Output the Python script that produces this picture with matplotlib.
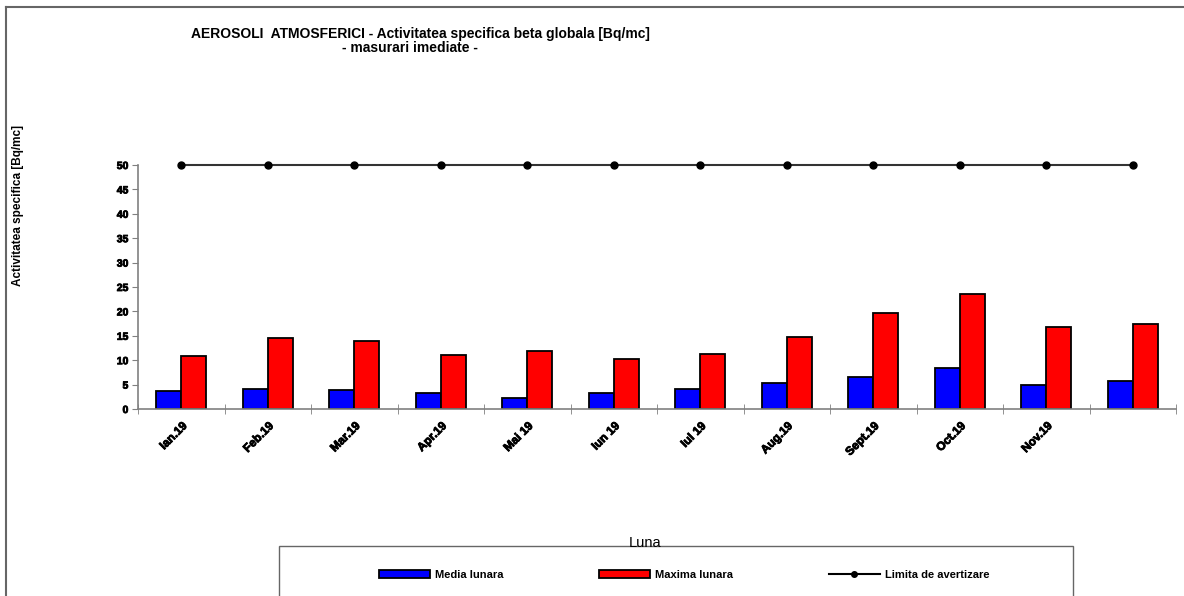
import matplotlib
matplotlib.use("Agg")
import matplotlib.pyplot as plt
import matplotlib.patheffects as pe
from matplotlib.patches import Rectangle, Patch
from matplotlib.lines import Line2D
import numpy as np

plt.rcParams['font.family'] = ['Liberation Sans', 'DejaVu Sans']

months = ['Ian.19', 'Feb.19', 'Mar.19', 'Apr.19', 'Mai 19', 'Iun 19', 'Iul 19',
          'Aug.19', 'Sept.19', 'Oct.19', 'Nov.19', '']
media_lunara = [3.6, 4.0, 3.9, 3.2, 2.3, 3.2, 4.2, 5.3, 6.6, 8.3, 4.9, 5.7]
maxima_lunara = [10.9, 14.5, 14.0, 11.0, 11.9, 10.2, 11.2, 14.7, 19.6, 23.5, 16.8, 17.5]
limita = [50] * 12
yticks = [0, 5, 10, 15, 20, 25, 30, 35, 40, 45, 50]

W, H = 1184, 596
fig = plt.figure(figsize=(W / 100, H / 100), dpi=100)

# outer frame lines (top and left)
fig.add_artist(Line2D([6 / W, 1.0], [1 - 7 / H, 1 - 7 / H], color='#666666', lw=1.5,
                      transform=fig.transFigure))
fig.add_artist(Line2D([6 / W, 6 / W], [0, 1 - 7 / H], color='#666666', lw=1.5,
                      transform=fig.transFigure))

ax = fig.add_axes([138 / W, 1 - 409 / H, (1176 - 138) / W, (409 - 165) / H])
x = np.arange(len(months))
bw = 0.29
ax.bar(x - bw / 2, media_lunara, width=bw, color='#0000FF', edgecolor='black', lw=1.3,
       label='Media lunara', zorder=2)
ax.bar(x + bw / 2, maxima_lunara, width=bw, color='#FF0000', edgecolor='black', lw=1.3,
       label='Maxima lunara', zorder=2)
ax.plot(x, limita, color='#333333', lw=1.5, marker='o', markersize=5,
        markerfacecolor='black', markeredgecolor='black', label='Limita de avertizare',
        zorder=3, clip_on=False)

ax.set_xlim(-0.5, len(months) - 0.5)
ax.set_ylim(0, 50)
for s in ['top', 'right']:
    ax.spines[s].set_visible(False)
for s in ['left', 'bottom']:
    ax.spines[s].set_color('#808080')
    ax.spines[s].set_linewidth(1.2)

heavy = [pe.withStroke(linewidth=0.6, foreground='black')]

ax.set_yticks(yticks)
ax.set_yticklabels([str(v) for v in yticks], fontsize=7.5, fontweight='bold')
ax.tick_params(axis='y', direction='out', length=4, color='#808080', pad=3)
for t in ax.get_yticklabels():
    t.set_path_effects(heavy)

ax.set_xticks(x)
ax.set_xticklabels(months, rotation=45, ha='right', va='top', rotation_mode='anchor',
                   fontsize=8.5, fontweight='heavy')
ax.tick_params(axis='x', which='major', length=0, pad=8)
ax.set_xticks(np.arange(-0.5, len(months) + 0.5, 1), minor=True)
ax.tick_params(axis='x', which='minor', direction='inout', length=7, color='#808080')
for t in ax.get_xticklabels():
    t.set_path_effects(heavy)

# y axis label
fig.text(18 / W, 1 - 205 / H, 'Activitatea specifica [Bq/mc]', rotation=90,
         ha='center', va='center', fontsize=8.5, fontweight='bold')

# title
fig.text(420 / W, 1 - 34 / H,
         'AEROSOLI  ATMOSFERICI - Activitatea specifica beta globala [Bq/mc]',
         ha='center', va='center', fontsize=10, fontweight='bold')
fig.text(410 / W, 1 - 48 / H, '- masurari imediate -',
         ha='center', va='center', fontsize=10, fontweight='bold')

# x label
fig.text(645 / W, 1 - 543 / H, 'Luna', ha='center', va='center', fontsize=10.5)

# legend box
fig.add_artist(Rectangle((279 / W, -0.02), (1073 - 279) / W, (596 - 546) / H + 0.02,
                         transform=fig.transFigure, facecolor='white',
                         edgecolor='#666666', lw=1.0, zorder=1))
handles = [Patch(facecolor='#0000FF', edgecolor='black', lw=1.3),
           Patch(facecolor='#FF0000', edgecolor='black', lw=1.3),
           Line2D([], [], color='black', lw=1.5, marker='o', markersize=4)]
fig.legend(handles, ['Media lunara', 'Maxima lunara', 'Limita de avertizare'],
           loc='center', bbox_to_anchor=(684 / W, 1 - 575 / H), ncol=3, frameon=False,
           prop={'weight': 'bold', 'size': 8}, handlelength=4.6,
           handleheight=0.8, handletextpad=0.45, columnspacing=8.6)

fig.savefig('out.png', dpi=100)
